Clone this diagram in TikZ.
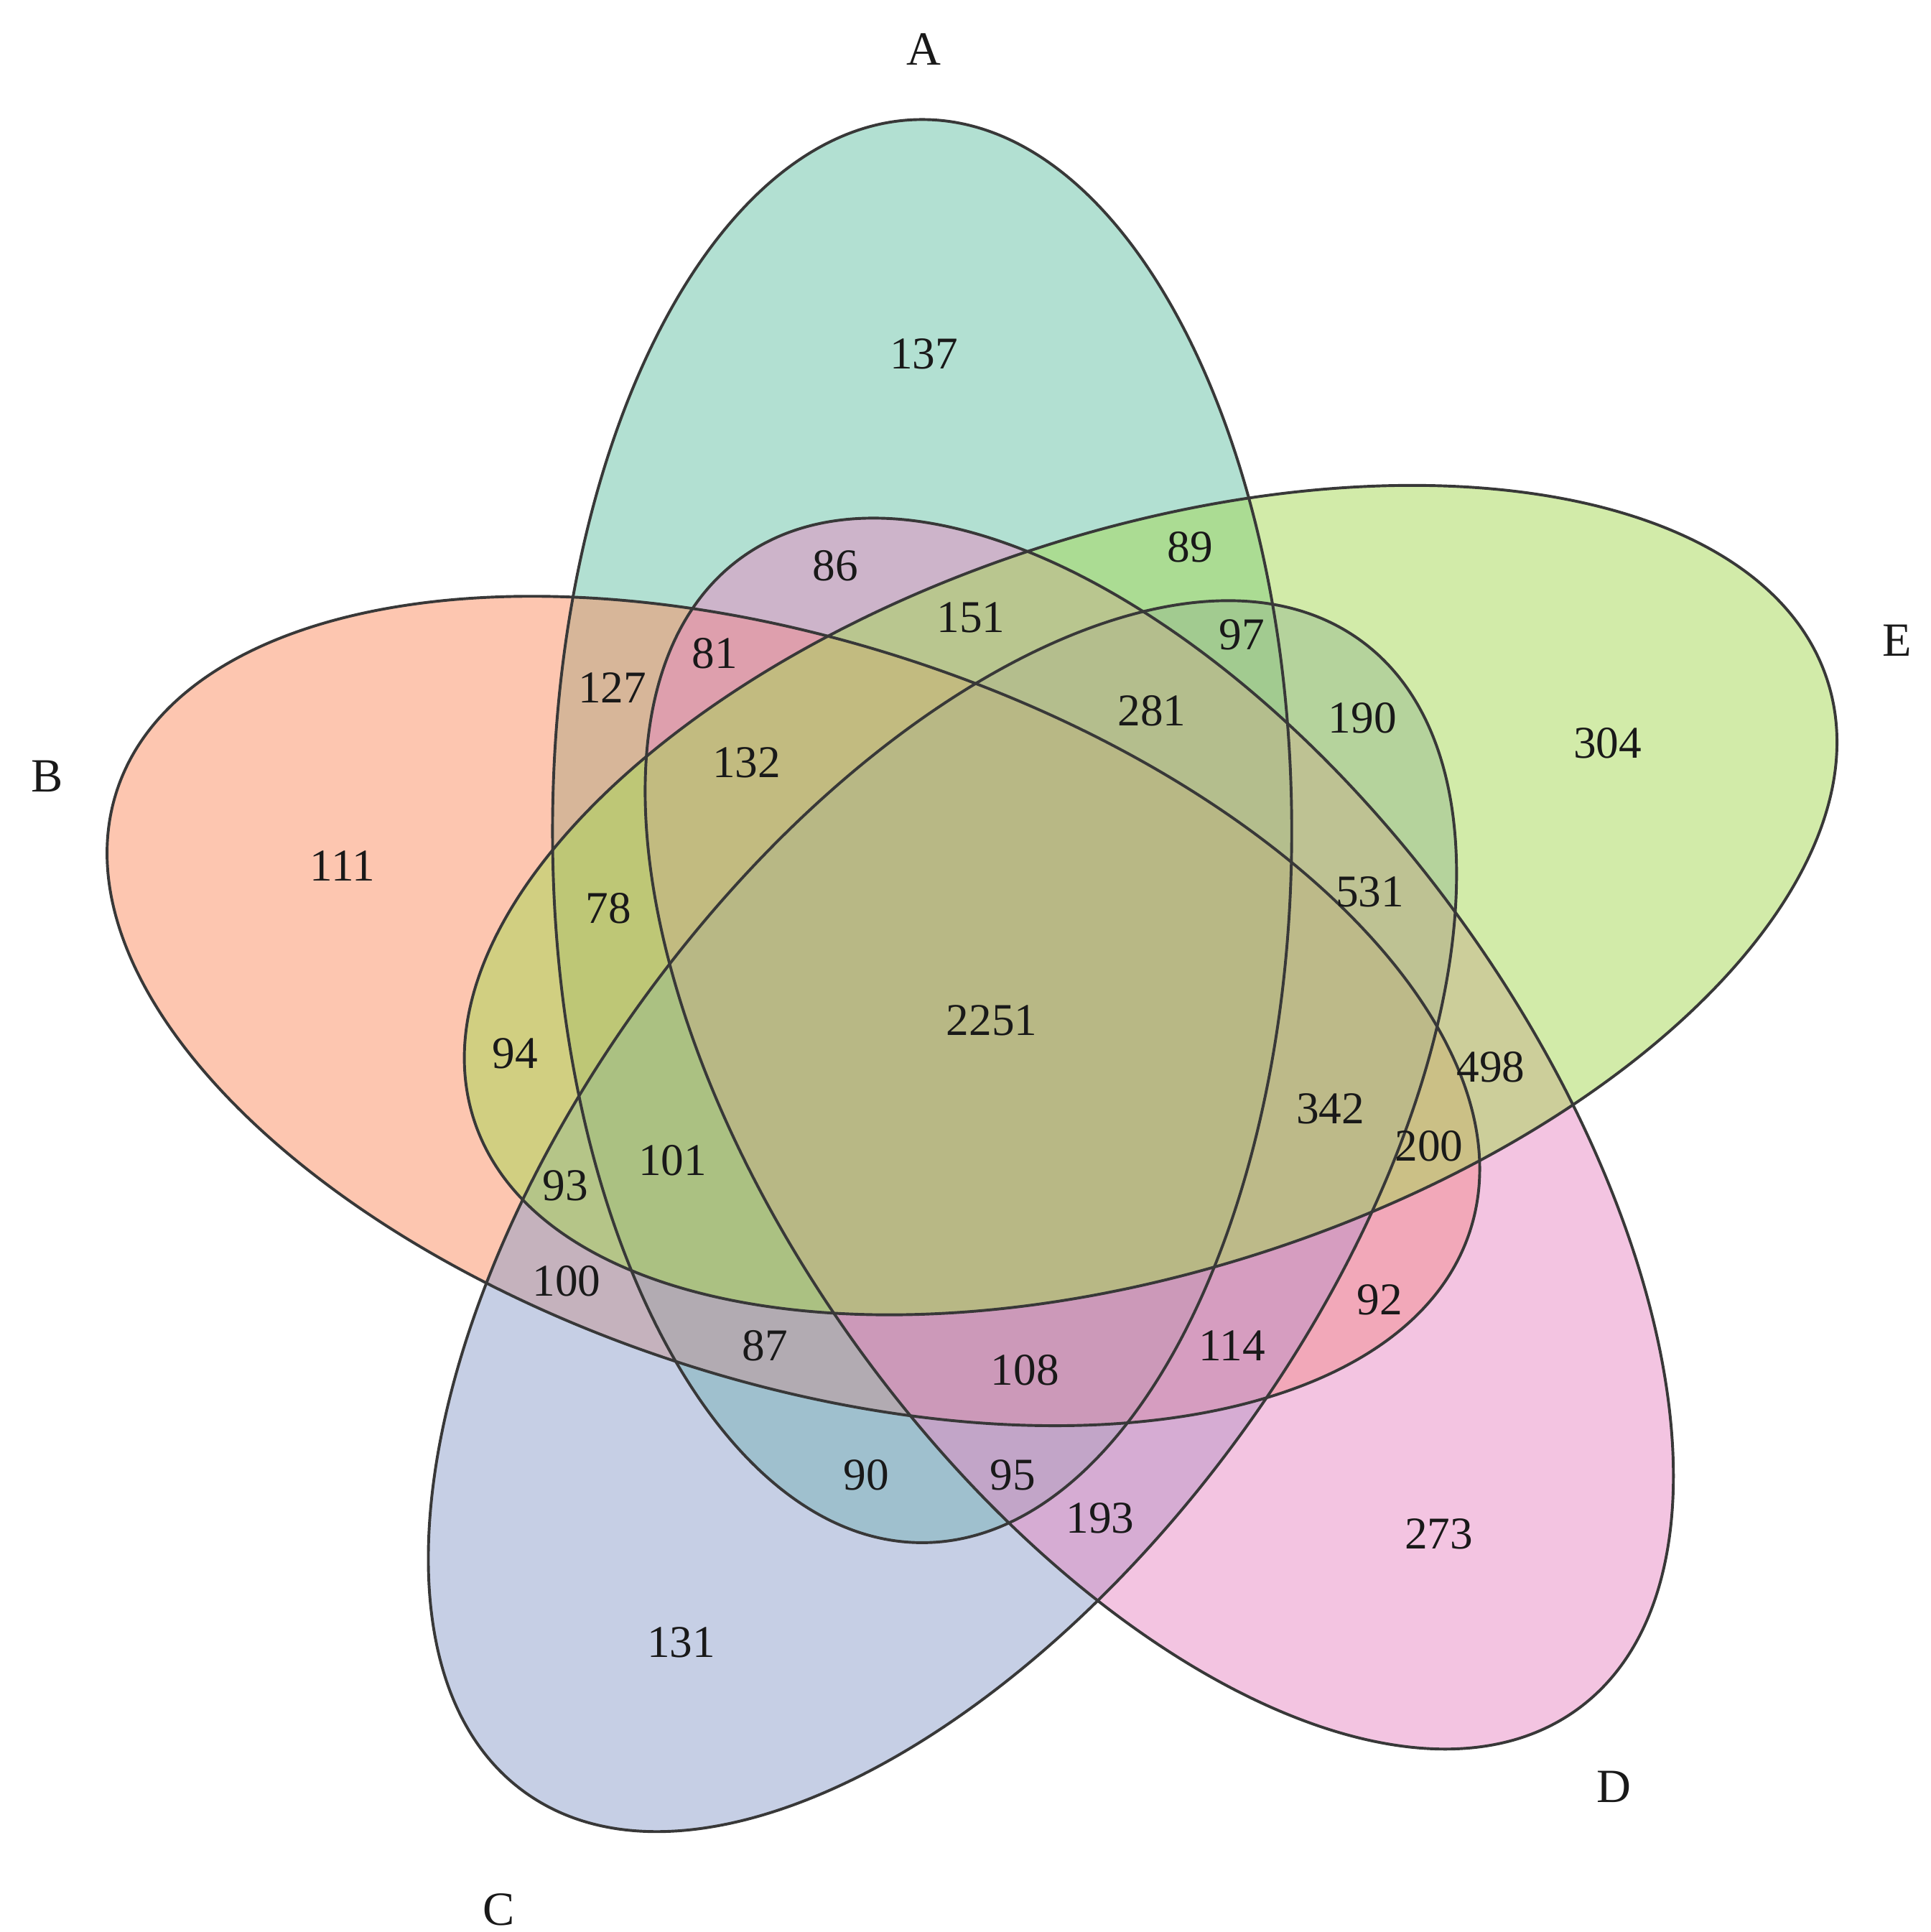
\documentclass[tikz,border=0pt]{standalone}
\usepackage{fontspec}
\setmainfont{Liberation Serif}
\definecolor{cA}{HTML}{66C2A5}
\definecolor{cB}{HTML}{FC8D62}
\definecolor{cC}{HTML}{8DA0CB}
\definecolor{cD}{HTML}{E78AC3}
\definecolor{cE}{HTML}{A6D854}
\begin{document}
\begin{tikzpicture}[x=0.1mm,y=0.1mm,
  setfill/.style={fill=#1, fill opacity=0.5},
  setline/.style={draw=black!78, line width=0.65pt},
  num/.style={font=\fontsize{10.5}{12}\selectfont, inner sep=0pt, text=black!90},
  setname/.style={font=\fontsize{11}{13}\selectfont, inner sep=0pt, text=black!90}]
\useasboundingbox (0,0) rectangle (1567,-1568);
\foreach \cx/\cy/\ang/\col in {748.5/-674.5/90/cA, 644/-820.5/162/cB, 765/-987/234/cC, 941/-920/306/cD, 934/-730.5/18/cE}
  \fill[setfill=\col, shift={(\cx,\cy)}, rotate=\ang] (0,0) ellipse [x radius=577.5, y radius=300];
\foreach \cx/\cy/\ang in {748.5/-674.5/90, 644/-820.5/162, 765/-987/234, 941/-920/306, 934/-730.5/18}
  \draw[setline, shift={(\cx,\cy)}, rotate=\ang] (0,0) ellipse [x radius=577.5, y radius=300];
% set names
\node[setname] (lA) at (750,-40) {A};
\node[setname] (lB) at (38,-630) {B};
\node[setname] (lC) at (405,-1550) {C};
\node[setname] (lD) at (1310,-1450) {D};
\node[setname] (lE) at (1540,-520) {E};
% counts
\node[num] (n137) at (750,-287) {137};
\node[num] (n86) at (678,-459) {86};
\node[num] (n89) at (966,-444) {89};
\node[num] (n151) at (788,-501) {151};
\node[num] (n97) at (1008,-515) {97};
\node[num] (n81) at (580,-530) {81};
\node[num] (n127) at (497,-558) {127};
\node[num] (n281) at (935,-577) {281};
\node[num] (n190) at (1106,-583) {190};
\node[num] (n304) at (1305,-603) {304};
\node[num] (n132) at (606,-619) {132};
\node[num] (n111) at (278,-703) {111};
\node[num] (n78) at (494,-737) {78};
\node[num] (n531) at (1112,-724) {531};
\node[num] (n2251) at (805,-828) {2251};
\node[num] (n94) at (418,-855) {94};
\node[num] (n498) at (1210,-866) {498};
\node[num] (n342) at (1080,-900) {342};
\node[num] (n200) at (1160,-930) {200};
\node[num] (n93) at (459,-962) {93};
\node[num] (n101) at (546,-942) {101};
\node[num] (n100) at (460,-1040) {100};
\node[num] (n92) at (1120,-1055) {92};
\node[num] (n87) at (621,-1092) {87};
\node[num] (n108) at (832,-1112) {108};
\node[num] (n114) at (1000,-1092) {114};
\node[num] (n90) at (703,-1197) {90};
\node[num] (n95) at (822,-1197) {95};
\node[num] (n193) at (893,-1232) {193};
\node[num] (n273) at (1168,-1245) {273};
\node[num] (n131) at (553,-1333) {131};
\end{tikzpicture}
\end{document}
